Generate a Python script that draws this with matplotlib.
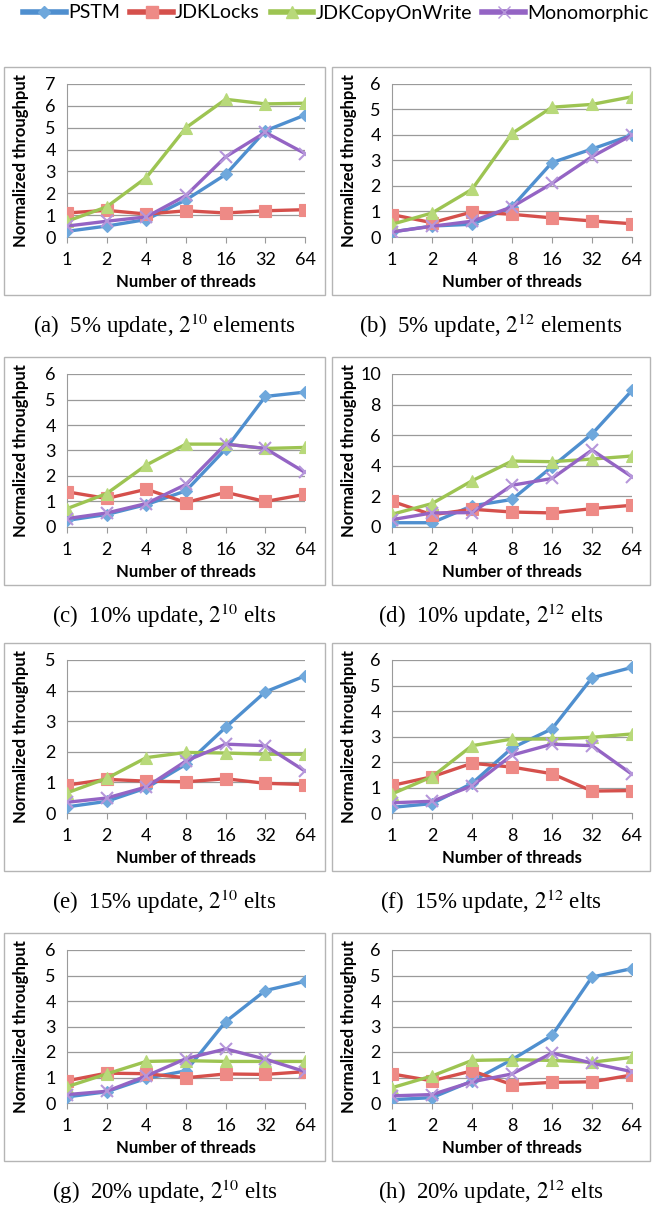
import matplotlib.pyplot as plt
from matplotlib.patches import Rectangle
from matplotlib.lines import Line2D

plt.rcParams['font.family'] = ['Lato', 'DejaVu Sans']
plt.rcParams['mathtext.fontset'] = 'stix'

threads = ['1', '2', '4', '8', '16', '32', '64']
series_names = ['PSTM', 'JDKLocks', 'JDKCopyOnWrite', 'Monomorphic']

# (a) 5% update, 2^10 elements
a_pstm = [0.26, 0.5, 0.8, 1.7, 2.86, 4.86, 5.58]
a_locks = [1.1, 1.22, 1.05, 1.2, 1.1, 1.2, 1.25]
a_cow = [0.72, 1.38, 2.72, 5.0, 6.3, 6.09, 6.12]
a_mono = [0.5, 0.72, 0.92, 1.9, 3.67, 4.79, 3.82]

# (b) 5% update, 2^12 elements
b_pstm = [0.2, 0.43, 0.5, 1.18, 2.92, 3.45, 4.0]
b_locks = [0.88, 0.56, 0.98, 0.89, 0.75, 0.63, 0.52]
b_cow = [0.5, 0.94, 1.87, 4.06, 5.09, 5.2, 5.5]
b_mono = [0.2, 0.42, 0.62, 1.18, 2.1, 3.15, 4.0]

# (c) 10% update, 2^10 elts
c_pstm = [0.26, 0.49, 0.88, 1.42, 3.06, 5.12, 5.29]
c_locks = [1.38, 1.12, 1.48, 0.96, 1.36, 1.0, 1.28]
c_cow = [0.72, 1.31, 2.43, 3.25, 3.25, 3.08, 3.12]
c_mono = [0.33, 0.55, 0.92, 1.67, 3.25, 3.08, 2.14]

# (d) 10% update, 2^12 elts
d_pstm = [0.28, 0.28, 1.38, 1.8, 3.94, 6.08, 8.93]
d_locks = [1.68, 0.8, 1.16, 0.98, 0.92, 1.2, 1.42]
d_cow = [0.83, 1.53, 3.02, 4.31, 4.27, 4.44, 4.64]
d_mono = [0.48, 0.92, 0.94, 2.73, 3.17, 5.03, 3.28]

# (e) 15% update, 2^10 elts
e_pstm = [0.2, 0.38, 0.82, 1.59, 2.8, 3.96, 4.48]
e_locks = [0.91, 1.1, 1.04, 1.02, 1.12, 0.97, 0.93]
e_cow = [0.66, 1.13, 1.81, 1.98, 1.96, 1.92, 1.92]
e_mono = [0.35, 0.49, 0.85, 1.7, 2.25, 2.2, 1.37]

# (f) 15% update, 2^12 elts
f_pstm = [0.22, 0.37, 1.16, 2.55, 3.3, 5.3, 5.71]
f_locks = [1.08, 1.42, 1.95, 1.8, 1.54, 0.86, 0.88]
f_cow = [0.75, 1.42, 2.64, 2.9, 2.9, 2.97, 3.1]
f_mono = [0.4, 0.46, 1.06, 2.27, 2.7, 2.64, 1.52]

# (g) 20% update, 2^10 elts
g_pstm = [0.24, 0.44, 0.97, 1.26, 3.19, 4.41, 4.77]
g_locks = [0.87, 1.17, 1.15, 0.99, 1.14, 1.12, 1.23]
g_cow = [0.64, 1.14, 1.63, 1.66, 1.63, 1.63, 1.63]
g_mono = [0.33, 0.46, 1.06, 1.74, 2.12, 1.72, 1.23]

# (h) 20% update, 2^12 elts
h_pstm = [0.13, 0.21, 0.86, 1.7, 2.65, 4.94, 5.27]
h_locks = [1.14, 0.87, 1.26, 0.72, 0.81, 0.83, 1.1]
h_cow = [0.6, 1.06, 1.67, 1.7, 1.67, 1.6, 1.79]
h_mono = [0.28, 0.33, 0.83, 1.14, 1.96, 1.56, 1.23]

captions = [
    r'(a)  5% update, $2^{10}$ elements', r'(b)  5% update, $2^{12}$ elements',
    r'(c)  10% update, $2^{10}$ elts', r'(d)  10% update, $2^{12}$ elts',
    r'(e)  15% update, $2^{10}$ elts', r'(f)  15% update, $2^{12}$ elts',
    r'(g)  20% update, $2^{10}$ elts', r'(h)  20% update, $2^{12}$ elts',
]
y_max = [7, 6, 6, 10, 5, 6, 6, 6]
y_step = [1, 1, 1, 2, 1, 1, 1, 1]

panels = [
    (a_pstm, a_locks, a_cow, a_mono), (b_pstm, b_locks, b_cow, b_mono),
    (c_pstm, c_locks, c_cow, c_mono), (d_pstm, d_locks, d_cow, d_mono),
    (e_pstm, e_locks, e_cow, e_mono), (f_pstm, f_locks, f_cow, f_mono),
    (g_pstm, g_locks, g_cow, g_mono), (h_pstm, h_locks, h_cow, h_mono),
]

line_colors = ['#4F8FCF', '#D5504C', '#9DC452', '#9464C4']
face_colors = ['#6FA8DC', '#EE8A86', '#B8D97A', '#B596DA']
markers = ['D', 's', '^', 'x']
msizes = [6, 8, 8, 9]

W, H = 652, 1210
fig = plt.figure(figsize=(W / 100, H / 100), dpi=100)

row_tops = [67, 357, 643, 933]
box_x = [(4, 325), (332, 650)]
ax_x = [(67, 305), (392, 632)]


def fx(px):
    return px / W


def fy(py):
    return 1 - py / H


for i, series in enumerate(panels):
    r, c = divmod(i, 2)
    top = row_tops[r]
    # panel frame
    bx0, bx1 = box_x[c]
    fig.patches.append(Rectangle((fx(bx0), fy(top + 228)), fx(bx1 - bx0), 228 / H,
                                 transform=fig.transFigure, fill=False,
                                 edgecolor='#B5B5B5', linewidth=1))
    ax0, ax1 = ax_x[c]
    ax = fig.add_axes([fx(ax0), fy(top + 170), fx(ax1 - ax0), 153 / H])
    xs = range(len(threads))
    for k, vals in enumerate(series):
        ax.plot(xs, vals, color=line_colors[k], linewidth=2.4,
                marker=markers[k], markersize=msizes[k],
                markerfacecolor=face_colors[k], markeredgecolor=face_colors[k],
                markeredgewidth=1.5 if markers[k] == 'x' else 0.8, zorder=3 + k * 0.1)
    ax.set_xlim(0, len(threads) - 1)
    ax.set_ylim(0, y_max[i])
    ax.set_yticks(range(0, y_max[i] + 1, y_step[i]))
    ax.set_xticks(list(xs))
    ax.set_xticklabels(threads)
    ax.grid(axis='y', color='#9A9A9A', linewidth=0.9)
    ax.set_axisbelow(True)
    for s in ['top', 'right']:
        ax.spines[s].set_visible(False)
    ax.spines['left'].set_color('#9A9A9A')
    ax.spines['bottom'].set_color('#9A9A9A')
    ax.tick_params(axis='x', length=4, color='#9A9A9A', labelsize=13, pad=7)
    ax.tick_params(axis='y', length=0, labelsize=13, pad=8)
    ax.set_ylabel('Normalized throughput', fontsize=12, fontweight='bold')
    ax.set_xlabel('Number of threads', fontsize=12, fontweight='bold')
    ax.yaxis.set_label_coords(-0.16 if c == 0 else -0.145, 0.5)
    ax.xaxis.set_label_coords(0.5, -0.245)
    cx = (bx0 + bx1) / 2
    fig.text(fx(cx), fy(top + 259), captions[i], ha='center', va='center',
             fontsize=16.5, family='Liberation Serif')

handles = [Line2D([], [], color=line_colors[k], linewidth=4, marker=markers[k],
                  markersize=msizes[k], markerfacecolor=face_colors[k],
                  markeredgecolor=face_colors[k]) for k in range(4)]
fig.legend(handles, series_names, loc='center', bbox_to_anchor=(0.515, fy(13)),
           ncol=4, frameon=False, fontsize=14, handlelength=2.2,
           handletextpad=0.1, columnspacing=0.55)

fig.savefig('out.png', dpi=100)
